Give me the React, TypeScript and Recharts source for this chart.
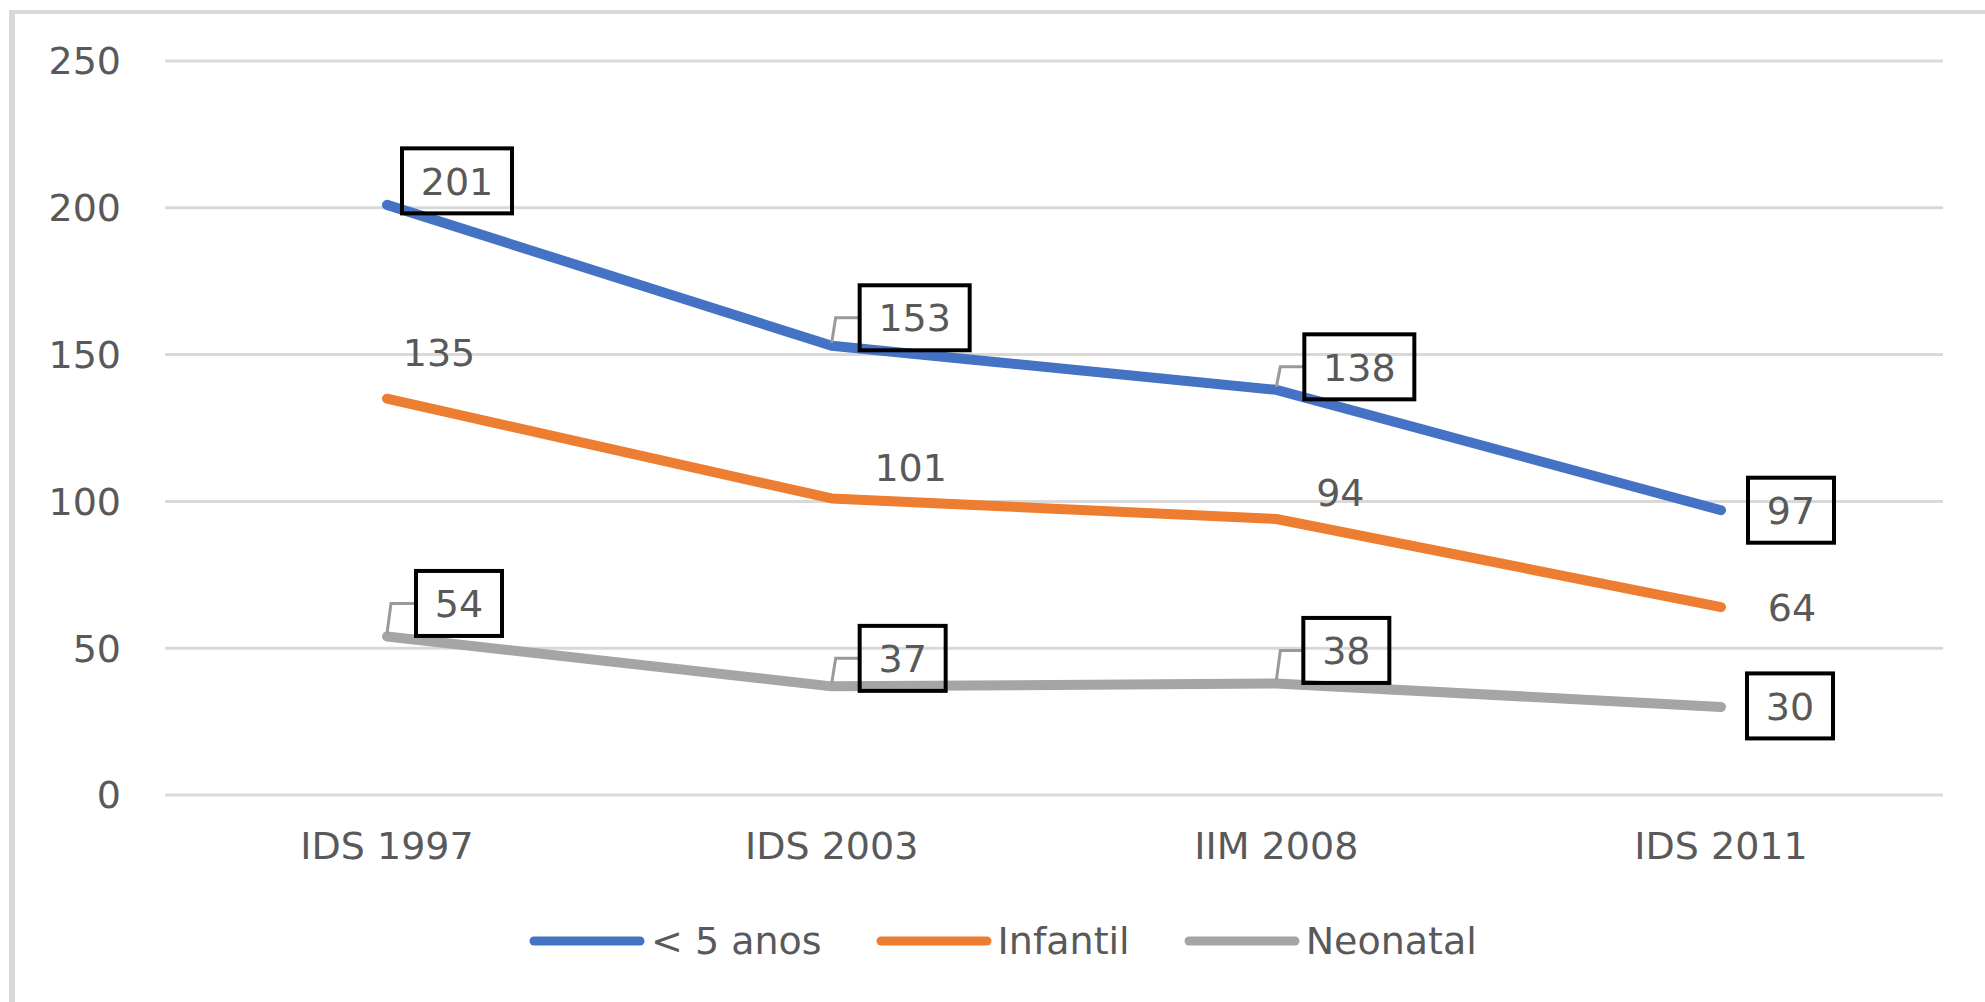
import React from 'react';
import { LineChart, Line, XAxis, YAxis, CartesianGrid, LabelList } from 'recharts';

const categories = ['IDS 1997', 'IDS 2003', 'IIM 2008', 'IDS 2011'];
const under5 = [201, 153, 138, 97];
const infantil = [135, 101, 94, 64];
const neonatal = [54, 37, 38, 30];
const yTicks = [0, 50, 100, 150, 200, 250];
const seriesNames = ['< 5 anos', 'Infantil', 'Neonatal'];
const seriesColors = ['#4472C4', '#ED7D31', '#A5A5A5'];

const data = categories.map((c, i) => ({
  cat: c,
  under5: under5[i],
  infantil: infantil[i],
  neonatal: neonatal[i],
}));

// label layout: offset from data point to label centre
const under5Offsets = [[70, -24], [83, -28], [83, -23], [70, 0]];
const under5Leaders = [false, true, true, false];
const infantilOffsets = [[52, -46], [79, -31], [64, -27], [71, 0]];
const neonatalOffsets = [[72, -33], [71, -28], [70, -33], [69, -1]];
const neonatalLeaders = [true, true, true, false];

const FONT = '"DejaVu Sans", Verdana, sans-serif';
const TEXT = '#595959';

const makeLabel = (offsets: number[][], boxed: boolean, leaders?: boolean[]) => (props: any) => {
  const { x, y, value, index } = props;
  if (x == null || y == null) return null;
  const [dx, dy] = offsets[index] || [0, -30];
  const cx = x + dx;
  const cy = y + dy;
  const w = String(value).length >= 3 ? 110 : 86;
  const h = 65;
  return (
    <g>
      {leaders && leaders[index] && (
        <path
          d={`M${x},${y - 3} L${x + 4},${cy} L${cx - w / 2},${cy}`}
          stroke="#9A9A9A"
          strokeWidth={3}
          fill="none"
        />
      )}
      {boxed && (
        <rect x={cx - w / 2} y={cy - h / 2} width={w} height={h} fill="none" stroke="#000" strokeWidth={4} />
      )}
      <text x={cx} y={cy} dy="0.36em" textAnchor="middle" fontFamily={FONT} fontSize={38} fill={TEXT}>
        {value}
      </text>
    </g>
  );
};

const legendItems = seriesNames.map((n, i) => ({ name: n, color: seriesColors[i] }));

export default function App() {
  return (
    <div
      style={{
        position: 'absolute',
        left: 0,
        top: 0,
        width: 1985,
        height: 1002,
        overflow: 'hidden',
        background: '#fff',
      }}
    >
      <div
        style={{
          position: 'absolute',
          left: 9,
          top: 10,
          width: 2100,
          height: 1100,
          borderLeft: '6px solid #D9D9D9',
          borderTop: '4px solid #D9D9D9',
        }}
      />
      <div style={{ position: 'absolute', left: 0, top: 0 }}>
        <LineChart
          width={1985}
          height={1002}
          data={data}
          margin={{ top: 61, right: 42, bottom: 0, left: 0 }}
        >
          <CartesianGrid horizontal vertical={false} stroke="#D9D9D9" strokeWidth={3} />
          <XAxis
            dataKey="cat"
            axisLine={false}
            tickLine={false}
            tickSize={0}
            tickMargin={37}
            padding={{ left: 222, right: 222 }}
            tick={{ fill: TEXT, fontSize: 38, fontFamily: FONT }}
            height={207}
          />
          <YAxis
            domain={[0, 250]}
            ticks={yTicks}
            axisLine={false}
            tickLine={false}
            tickSize={0}
            tickMargin={44}
            width={165}
            tick={{ fill: TEXT, fontSize: 38, fontFamily: FONT }}
          />
          <Line
            dataKey="under5"
            name={seriesNames[0]}
            stroke={seriesColors[0]}
            strokeWidth={10}
            strokeLinecap="round"
            strokeLinejoin="round"
            dot={false}
            isAnimationActive={false}
          >
            <LabelList dataKey="under5" content={makeLabel(under5Offsets, true, under5Leaders)} />
          </Line>
          <Line
            dataKey="infantil"
            name={seriesNames[1]}
            stroke={seriesColors[1]}
            strokeWidth={10}
            strokeLinecap="round"
            strokeLinejoin="round"
            dot={false}
            isAnimationActive={false}
          >
            <LabelList dataKey="infantil" content={makeLabel(infantilOffsets, false)} />
          </Line>
          <Line
            dataKey="neonatal"
            name={seriesNames[2]}
            stroke={seriesColors[2]}
            strokeWidth={10}
            strokeLinecap="round"
            strokeLinejoin="round"
            dot={false}
            isAnimationActive={false}
          >
            <LabelList dataKey="neonatal" content={makeLabel(neonatalOffsets, true, neonatalLeaders)} />
          </Line>
        </LineChart>
      </div>
      <div
        style={{
          position: 'absolute',
          left: 529,
          top: 917,
          height: 48,
          display: 'flex',
          alignItems: 'center',
          gap: 54,
          fontFamily: FONT,
          fontSize: 38,
          color: TEXT,
          whiteSpace: 'nowrap',
        }}
      >
        {legendItems.map((it) => (
          <div key={it.name} style={{ display: 'flex', alignItems: 'center' }}>
            <svg width={116} height={12} style={{ display: 'block', marginRight: 6 }}>
              <line x1={5} y1={6} x2={111} y2={6} stroke={it.color} strokeWidth={9} strokeLinecap="round" />
            </svg>
            <span>{it.name}</span>
          </div>
        ))}
      </div>
    </div>
  );
}
